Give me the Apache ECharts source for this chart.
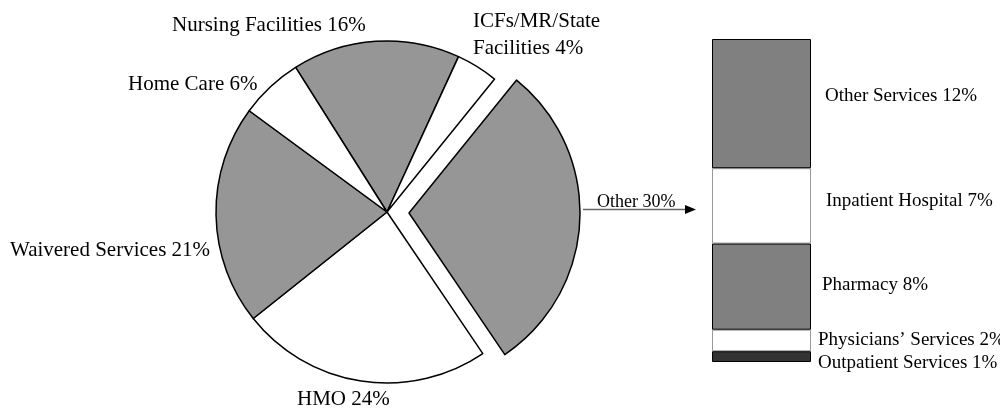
<!DOCTYPE html>
<html>
<head>
<meta charset="utf-8">
<script src="https://cdn.jsdelivr.net/npm/echarts@6/dist/echarts.min.js"></script>
<style>
  html, body { margin: 0; padding: 0; background: #fff; }
  #chart { width: 1000px; height: 409px; }
</style>
</head>
<body>
<div id="chart"></div>
<script>
// pie: clockwise from the top-left
const pieNames = ['Nursing Facilities', 'ICFs/MR/State\nFacilities', 'Other', 'HMO', 'Waivered Services', 'Home Care'];
const pieValues = [16, 4, 30, 24, 21, 6];
const pieColors = ['#969696', '#ffffff', '#969696', '#ffffff', '#969696', '#ffffff'];
// label anchors (left x, middle y) for each slice
const pieLabelPos = [[172, 25], [473, 35], [597, 202], [297, 399], [10, 250], [128, 84]];
const explodedName = 'Other';

// breakdown of "Other", bottom to top
const barNames = ['Outpatient Services', 'Physicians\u2019 Services', 'Pharmacy', 'Inpatient Hospital', 'Other Services'];
const barValues = [1, 2, 8, 7, 12];
const barColors = ['#333333', '#ffffff', '#808080', '#ffffff', '#808080'];
const barLabelTweak = [[7, 6], [7, 0], [11, -2], [15, -5], [14, -8]];

const font = '"Liberation Serif", "Times New Roman", serif';

const chart = echarts.init(document.getElementById('chart'));

// one pie for the body, one (shifted) for the pulled-out slice
const makePie = (exploded) => ({
  type: 'pie',
  center: exploded ? [409, 213] : [387, 212],
  radius: 171,
  startAngle: 122.3,
  clockwise: true,
  silent: true,
  emphasis: { disabled: true },
  label: {
    show: true,
    formatter: '{b} {c}%',
    fontFamily: font,
    fontSize: 21,
    lineHeight: 27,
    color: '#000',
    width: 320,
    overflow: 'none'
  },
  labelLine: { show: false },
  labelLayout: (p) => ({
    x: pieLabelPos[p.dataIndex][0],
    y: pieLabelPos[p.dataIndex][1],
    align: 'left',
    verticalAlign: 'middle'
  }),
  data: pieNames.map((name, i) => {
    const visible = (name === explodedName) === exploded;
    return {
      name,
      value: pieValues[i],
      itemStyle: visible
        ? { color: pieColors[i], borderColor: '#000', borderWidth: 1.5 }
        : { color: 'rgba(0,0,0,0)', borderWidth: 0 },
      label: visible
        ? (name === explodedName ? { fontSize: 18 } : {})
        : { show: false }
    };
  })
});

const barSeries = barNames.map((name, i) => ({
  name,
  type: 'bar',
  stack: 'other',
  data: [barValues[i]],
  barWidth: 99,
  z: barColors[i] === '#ffffff' ? 2 : 3,
  itemStyle: {
    color: barColors[i],
    borderColor: barColors[i] === '#ffffff' ? '#999' : '#000',
    borderWidth: 1
  },
  label: {
    show: true,
    position: 'right',
    distance: barLabelTweak[i][0],
    offset: [0, barLabelTweak[i][1]],
    formatter: '{a} {c}%',
    fontFamily: font,
    fontSize: 19,
    color: '#000'
  },
  emphasis: { disabled: true },
  silent: true
}));

chart.setOption({
  animation: false,
  backgroundColor: '#fff',
  grid: { left: 712, width: 99, top: 39, bottom: 47 },
  xAxis: { type: 'category', data: ['Other'], show: false },
  yAxis: { type: 'value', min: 0, max: 30, show: false },
  series: [makePie(false), makePie(true), ...barSeries],
  graphic: [
    {
      type: 'line',
      shape: { x1: 583, y1: 209.5, x2: 688, y2: 209.5 },
      style: { stroke: '#666', lineWidth: 1.5 }
    },
    {
      type: 'polygon',
      shape: { points: [[685, 205], [696, 209.5], [685, 214]] },
      style: { fill: '#000' }
    }
  ]
});
</script>
</body>
</html>
